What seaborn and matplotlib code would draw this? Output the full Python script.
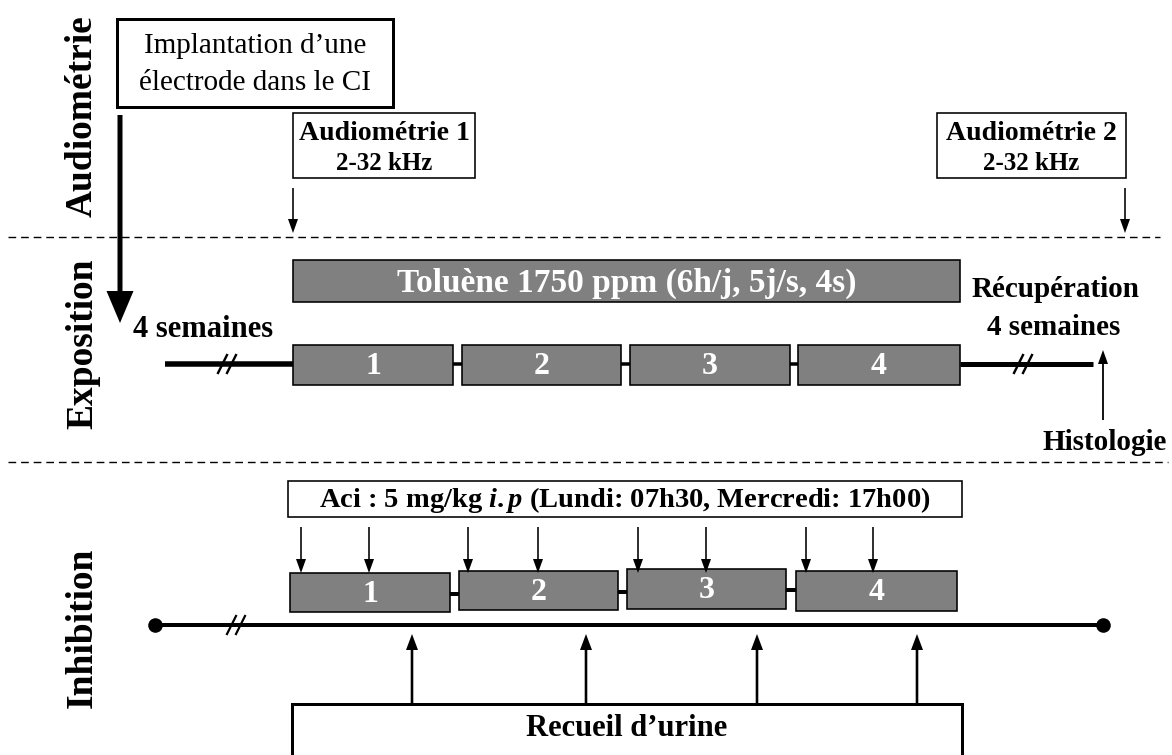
import matplotlib
matplotlib.use("Agg")
import matplotlib.pyplot as plt
from matplotlib.patches import Rectangle, FancyArrow
import seaborn as sns

# ---------------- data (diagram content) ----------------
row_labels = ["Audiométrie", "Exposition", "Inhibition"]
implant_lines = ["Implantation d\u2019une", "électrode dans le CI"]
audio_titles = ["Audiométrie 1", "Audiométrie 2"]
audio_range = "2-32 kHz"
exposure_label = "Toluène 1750 ppm (6h/j, 5j/s, 4s)"
before_label = "4 semaines"
recovery_lines = ["Récupération", "4 semaines"]
histo_label = "Histologie"
aci_label = r"Aci : 5 mg/kg $\mathit{i.p}$ (Lundi: 07h30, Mercredi: 17h00)"
urine_label = "Recueil d\u2019urine"
week_labels = ["1", "2", "3", "4"]

# exposure weeks (timeline positions)
expo_week_left = [293, 462, 630, 798]
expo_week_right = [453, 621, 790, 960]
# inhibition weeks
inhib_week_left = [290, 459, 627, 796]
inhib_week_right = [450, 618, 786, 957]
inhib_week_top = [573, 571, 569, 571]
inhib_week_bottom = [612, 610, 609, 611]
# injections (Monday / Wednesday each week)
aci_injection_x = [301, 369, 468, 538, 638, 706, 806, 873]
# urine collections
urine_x = [412, 586, 757, 917]

# ---------------- style ----------------
sns.set_theme(style="white")
plt.rcParams['font.family'] = ['Liberation Serif', 'DejaVu Serif']
plt.rcParams['text.color'] = 'black'
plt.rcParams['mathtext.fontset'] = 'custom'
plt.rcParams['mathtext.it'] = 'Liberation Serif:bold:italic'
plt.rcParams['mathtext.rm'] = 'Liberation Serif:bold'
plt.rcParams['mathtext.bf'] = 'Liberation Serif:bold'

PX = 0.72  # points per pixel at dpi 100
GREY = '#808080'

fig = plt.figure(figsize=(11.72, 7.55), dpi=100)
ax = fig.add_axes([0, 0, 1, 1])
ax.set_xlim(0, 1172)
ax.set_ylim(755, 0)
ax.axis('off')


def box(x0, x1, y0, y1, fc='white', lw=1.5):
    ax.add_patch(Rectangle((x0, y0), x1 - x0, y1 - y0, facecolor=fc,
                           edgecolor='black', lw=lw * PX, zorder=3))


def varrow(x, y0, y1, width, hw, hl):
    ax.add_patch(FancyArrow(x, y0, 0, y1 - y0, width=width, head_width=hw,
                            head_length=hl, length_includes_head=True,
                            color='black', lw=0, zorder=4))


def hline(x0, x1, y, lw, **kw):
    ax.plot([x0, x1], [y, y], color='black', lw=lw * PX,
            solid_capstyle='butt', zorder=2, **kw)


def brk(xc, y, w=5, h=10, gap=9, lw=2.4):
    for dx in (-gap / 2, gap / 2):
        ax.plot([xc + dx - w, xc + dx + w], [y + h, y - h], color='black',
                lw=lw * PX, zorder=5, solid_capstyle='butt')


# ---------------- row labels ----------------
for lab, yc in zip(row_labels, [116, 344, 628]):
    ax.text(92, yc, lab, rotation=90, rotation_mode='anchor', ha='center',
            va='baseline', fontsize=27, fontweight='bold', color='black')

# separators
ax.plot([8, 1160], [237, 237], color='black', lw=1.4 * PX,
        dashes=(5.5, 3.5), zorder=1)
ax.plot([8, 1168], [462, 462], color='black', lw=1.4 * PX,
        dashes=(5.5, 3.5), zorder=1)

# ---------------- audiometry section ----------------
box(117, 393, 19, 107, lw=3)
ax.text(255, 46, implant_lines[0], ha='center', va='center', fontsize=21)
ax.text(255, 83, implant_lines[1], ha='center', va='center', fontsize=21)

# big arrow
varrow(120, 115, 323, width=5, hw=27, hl=32)

for (x0, x1, ax_x), title in zip([(293, 475, 293), (937, 1126, 1125)], audio_titles):
    box(x0, x1, 113, 178, lw=1.6)
    ax.text((x0 + x1) / 2, 133, title, ha='center', va='center',
            fontsize=20, fontweight='bold')
    ax.text((x0 + x1) / 2, 163, audio_range, ha='center', va='center',
            fontsize=18, fontweight='bold')
    varrow(ax_x, 188, 233, width=1.6, hw=10, hl=14)

# ---------------- exposure section ----------------
box(293, 960, 260, 302, fc=GREY, lw=1.6)
ax.text(627, 283, exposure_label, ha='center', va='center', fontsize=24,
        fontweight='bold', color='white', zorder=6)

ax.text(133, 337, before_label, ha='left', va='baseline', fontsize=22,
        fontweight='bold')
ax.text(1056, 297, recovery_lines[0], ha='center', va='baseline',
        fontsize=21, fontweight='bold')
ax.text(1054, 335, recovery_lines[1], ha='center', va='baseline',
        fontsize=21, fontweight='bold')

ty = 364
hline(165, expo_week_left[0], ty, 5.5)
hline(expo_week_right[-1], 1093, ty, 5)
for r, l in zip(expo_week_right[:-1], expo_week_left[1:]):
    hline(r, l, ty, 3.5)
brk(227, ty)
brk(1023, ty)
for l, r, lab in zip(expo_week_left, expo_week_right, week_labels):
    box(l, r, 345, 385, fc=GREY, lw=1.6)
    ax.text((l + r) / 2, 367, lab, ha='center', va='center', fontsize=23,
            fontweight='bold', color='white', zorder=6)

varrow(1103, 420, 350, width=1.8, hw=10, hl=14)
ax.text(1105, 450, histo_label, ha='center', va='baseline', fontsize=21,
        fontweight='bold')

# ---------------- inhibition section ----------------
box(288, 962, 481, 517, lw=1.6)
ax.text(625, 500, aci_label, ha='center', va='center', fontsize=20.5,
        fontweight='bold', zorder=6)

for x in aci_injection_x:
    varrow(x, 527, 573, width=1.6, hw=10, hl=14)

for i in range(3):
    yc = (inhib_week_top[i] + inhib_week_bottom[i]) / 2 + 1
    hline(inhib_week_right[i], inhib_week_left[i + 1], yc, 4)
for l, r, t, b, lab in zip(inhib_week_left, inhib_week_right, inhib_week_top,
                           inhib_week_bottom, week_labels):
    box(l, r, t, b, fc=GREY, lw=1.6)
    ax.text((l + r) / 2, (t + b) / 2 + 2, lab, ha='center', va='center',
            fontsize=23, fontweight='bold', color='white', zorder=6)

by = 625
hline(155, 1103, by, 4)
sns.scatterplot(x=[155, 1103], y=[by, by], color='black', s=110,
                edgecolor='black', linewidth=0, ax=ax, zorder=5, legend=False)
brk(236, by, w=5, h=10, gap=9, lw=2.2)

box(292, 962, 704, 800, lw=3)
for x in urine_x:
    varrow(x, 703, 634, width=2.6, hw=12, hl=16)
ax.text(627, 728, urine_label, ha='center', va='center', fontsize=22,
        fontweight='bold')

ax.set_xlim(0, 1172)
ax.set_ylim(755, 0)
fig.savefig("out.png", dpi=100)
